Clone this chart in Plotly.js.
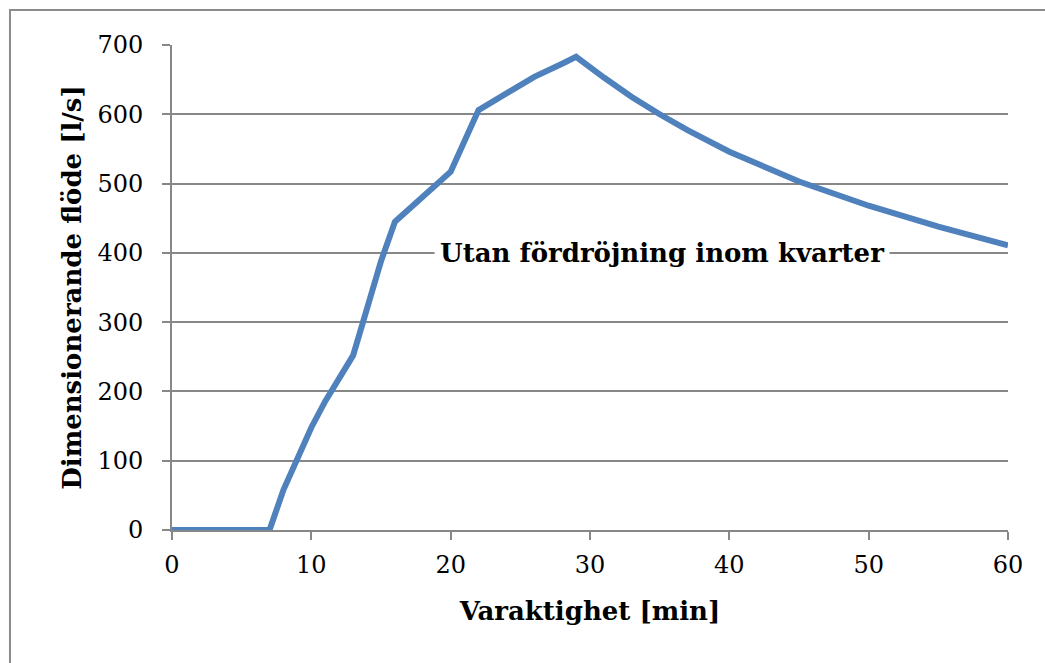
<!DOCTYPE html>
<html>
<head>
<meta charset="utf-8">
<script src="https://cdn.plot.ly/plotly-3.0.1.min.js"></script>
<style>html,body{margin:0;padding:0;background:#fff;}#chart{width:1045px;height:663px;}</style>
</head>
<body>
<div id="chart"></div>
<script>
var minutes = [0, 7, 8, 10, 11, 12, 13, 14, 15, 16, 18, 20, 22, 24, 26, 28, 29, 31, 33, 35, 37, 40, 45, 50, 55, 60];
var flow    = [0, 0, 58, 148, 186, 220, 252, 320, 388, 445, 482, 517, 606, 631, 654, 673, 683, 653, 625, 600, 577, 546, 503, 468, 438, 411];
var xTicks = [0, 10, 20, 30, 40, 50, 60];
var yTicks = [0, 100, 200, 300, 400, 500, 600, 700];
var seriesLabel = "Utan fördröjning inom kvarter";
var xTitle = "Varaktighet [min]";
var yTitle = "Dimensionerande flöde [l/s]";

var font = "DejaVu Serif, Liberation Serif, serif";
var gray = "#878787";

var trace = {
  x: minutes, y: flow, type: "scatter", mode: "lines",
  line: {color: "#4F81BD", width: 6}, hoverinfo: "skip"
};

var layout = {
  width: 1045, height: 663,
  margin: {l: 172, r: 37, t: 45, b: 133},
  paper_bgcolor: "#fff", plot_bgcolor: "#fff",
  showlegend: false,
  font: {family: font, color: "#000", size: 24},
  xaxis: {
    range: [0, 60], tickvals: xTicks, ticktext: xTicks.map(String),
    showgrid: false, zeroline: false, showline: true, linecolor: gray, linewidth: 2,
    ticks: "outside", ticklen: 8, tickcolor: gray, tickwidth: 2, ticklabelstandoff: 4,
    tickfont: {family: font, size: 24, color: "#000"},
    title: {text: "<b>" + xTitle + "</b>", font: {family: font, size: 26, color: "#000"}, standoff: 24}
  },
  yaxis: {
    range: [0, 700], tickvals: yTicks, ticktext: yTicks.map(String),
    showgrid: true, gridcolor: gray, gridwidth: 2,
    zeroline: false, showline: true, linecolor: gray, linewidth: 2,
    ticks: "outside", ticklen: 8, tickcolor: gray, tickwidth: 2, ticklabelstandoff: 14,
    tickfont: {family: font, size: 24, color: "#000"},
    title: {text: "<b>" + yTitle + "</b>", font: {family: font, size: 26, color: "#000"}, standoff: 8}
  },
  annotations: [{
    x: 35.2, y: 400, xref: "x", yref: "y", text: "<b>" + seriesLabel + "</b>",
    showarrow: false, bgcolor: "#fff", borderpad: 5,
    font: {family: font, size: 26, color: "#000"}
  }],
  shapes: [{
    type: "rect", xref: "paper", yref: "paper",
    x0: -0.1938, x1: 1.2, y0: -0.5, y1: 1.0722,
    line: {color: "#8c8c8c", width: 2}, fillcolor: "rgba(0,0,0,0)", layer: "below"
  }]
};

Plotly.newPlot("chart", [trace], layout, {displayModeBar: false, staticPlot: true});
</script>
</body>
</html>
